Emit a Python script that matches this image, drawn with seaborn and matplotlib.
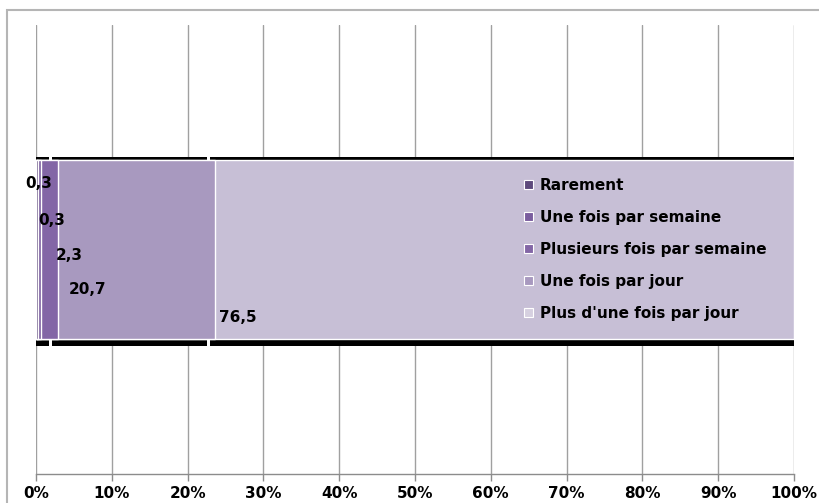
import matplotlib
matplotlib.use("Agg")
import matplotlib.pyplot as plt
import seaborn as sns
import numpy as np
import pandas as pd
from matplotlib.patches import Patch, Rectangle

# ---- data ----
categories = ["Rarement", "Une fois par semaine", "Plusieurs fois par semaine",
              "Une fois par jour", "Plus d'une fois par jour"]
values = [0.3, 0.3, 2.3, 20.7, 76.5]
value_labels = ["0,3", "0,3", "2,3", "20,7", "76,5"]
tick_values = [0, 10, 20, 30, 40, 50, 60, 70, 80, 90, 100]
tick_labels = ["0%", "10%", "20%", "30%", "40%", "50%", "60%", "70%", "80%", "90%", "100%"]

colors = ["#5e4a7c", "#7a5d9e", "#8366a6", "#a899bf", "#c7bfd6"]
legend_colors = ["#5e4a7c", "#7a5d9e", "#8366a6", "#a899bf", "#d6d0e0"]

sns.set_theme(style="white")
plt.rcParams["font.family"] = ["DejaVu Sans"]
plt.rcParams["text.color"] = "black"

FS = 11

fig = plt.figure(figsize=(8.19, 5.03), dpi=100)
ax = fig.add_axes([36 / 819, 1 - 474 / 503, (794 - 36) / 819, (474 - 25) / 503])

total = sum(values)
pct = [v / total * 100 for v in values]
cum = np.cumsum(pct)
lefts = cum - np.array(pct)

# shadow (3D bevel look)
shift = 0.8
for i in range(len(pct)):
    l = max(lefts[i] - shift * (1 - lefts[i] / 100), -0.2)
    r = cum[i] - shift * (1 - cum[i] / 100) - 0.35
    if i == len(pct) - 1:
        r = 100
    ax.barh([0.012], [r - l], left=[l], height=1.055, color="black",
            edgecolor="none", zorder=1)

# stacked bar drawn with seaborn (cumulative, largest first)
for i in reversed(range(len(pct))):
    df = pd.DataFrame({"cat": [""], "val": [cum[i]]})
    sns.barplot(data=df, x="val", y="cat", orient="h", color=colors[i],
                width=1.0, edgecolor="white", linewidth=1.0, ax=ax,
                saturation=1, zorder=2)

ax.set_ylim(1.25, -1.25)
ax.set_xlim(0, 100)

# data labels (staggered as in the original)
label_x = [-1.45, 0.26, 2.64, 4.35, 24.1]
label_y = [-0.37, -0.164, 0.036, 0.225, 0.38]
for lx, ly, t in zip(label_x, label_y, value_labels):
    ax.text(lx, ly, t, ha="left", va="center", fontsize=FS,
            fontweight="bold", color="black", zorder=5, clip_on=False)

# axes styling
ax.set_xticks(tick_values)
ax.set_xticklabels(tick_labels, fontsize=FS, fontweight="bold", color="black")
ax.set_yticks([])
ax.set_xlabel("")
ax.set_ylabel("")
ax.xaxis.grid(True, color="#a0a0a0", linewidth=1.0)
ax.set_axisbelow(True)
for s in ["top", "right", "left"]:
    ax.spines[s].set_visible(False)
ax.spines["bottom"].set_color("#8c8c8c")
ax.spines["bottom"].set_linewidth(1.0)
ax.tick_params(axis="x", which="major", bottom=True, length=5, width=1.0,
               color="#8c8c8c", pad=3.5, labelcolor="black")

# legend
handles = [Patch(facecolor=c, edgecolor="white", linewidth=0.8) for c in legend_colors]
leg = fig.legend(handles, categories, loc="upper left",
                 bbox_to_anchor=(524 / 819, 1 - 178 / 503),
                 bbox_transform=fig.transFigure, frameon=False,
                 prop={"weight": "bold", "size": FS},
                 handlelength=0.6, handleheight=0.6, handletextpad=0.45,
                 labelspacing=1.11, borderpad=0, borderaxespad=0)
for t in leg.get_texts():
    t.set_color("black")
leg.set_zorder(10)

# outer chart border
fig.patches.append(Rectangle((7 / 819, -0.1), 1.2, 1 - 10 / 503 + 0.1,
                             transform=fig.transFigure, fill=False,
                             edgecolor="#b5b5b5", linewidth=1.5))

fig.savefig("out.png", dpi=100)
